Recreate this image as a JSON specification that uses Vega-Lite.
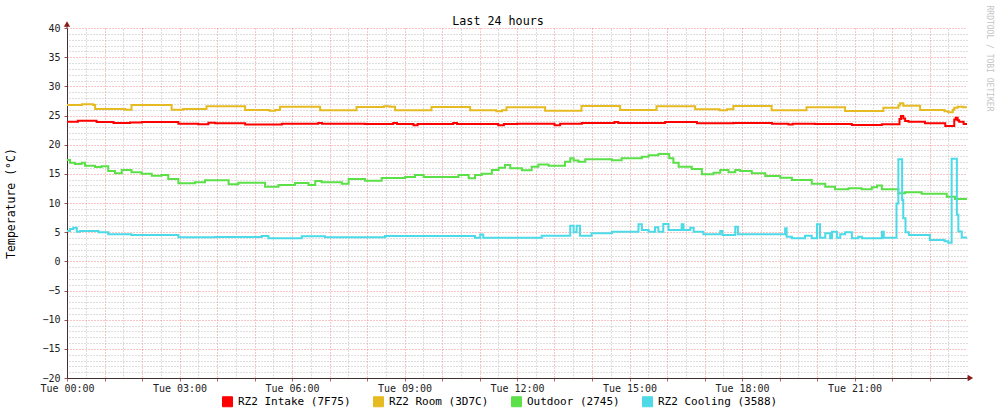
{
 "$schema": "https://vega.github.io/schema/vega-lite/v6.json",
 "width": 900, "height": 350,
 "autosize": {"type": "none"},
 "padding": {"left": 67, "top": 28, "right": 30, "bottom": 40},
 "background": "#ffffff",
 "title": {"text": "Last 24 hours", "font": "DejaVu Sans Mono", "fontSize": 11.7, "fontWeight": "normal", "color": "#000000", "anchor": "middle", "frame": "group", "offset": -23, "dx": -19},
 "config": {"view": {"stroke": null}, "axis": {"labelFont": "DejaVu Sans Mono", "titleFont": "DejaVu Sans Mono"}},
 "data": {"values": [
  {"s":"RZ2 Intake (7F75)","h":0,"v":23.94},{"s":"RZ2 Intake (7F75)","h":0.29,"v":24.1},{"s":"RZ2 Intake (7F75)","h":0.79,"v":23.9},{"s":"RZ2 Intake (7F75)","h":1.24,"v":23.7},{"s":"RZ2 Intake (7F75)","h":1.68,"v":23.8},{"s":"RZ2 Intake (7F75)","h":2.0,"v":23.9},{"s":"RZ2 Intake (7F75)","h":2.97,"v":23.6},{"s":"RZ2 Intake (7F75)","h":3.5,"v":23.5},{"s":"RZ2 Intake (7F75)","h":3.77,"v":23.75},{"s":"RZ2 Intake (7F75)","h":3.95,"v":23.66},{"s":"RZ2 Intake (7F75)","h":4.75,"v":23.45},{"s":"RZ2 Intake (7F75)","h":5.73,"v":23.6},{"s":"RZ2 Intake (7F75)","h":6.7,"v":23.72},{"s":"RZ2 Intake (7F75)","h":6.8,"v":23.6},{"s":"RZ2 Intake (7F75)","h":7.95,"v":23.54},{"s":"RZ2 Intake (7F75)","h":8.7,"v":23.72},{"s":"RZ2 Intake (7F75)","h":8.8,"v":23.54},{"s":"RZ2 Intake (7F75)","h":9.24,"v":23.35},{"s":"RZ2 Intake (7F75)","h":9.35,"v":23.54},{"s":"RZ2 Intake (7F75)","h":10.3,"v":23.72},{"s":"RZ2 Intake (7F75)","h":10.4,"v":23.54},{"s":"RZ2 Intake (7F75)","h":11.5,"v":23.35},{"s":"RZ2 Intake (7F75)","h":11.65,"v":23.54},{"s":"RZ2 Intake (7F75)","h":12.0,"v":23.6},{"s":"RZ2 Intake (7F75)","h":13.0,"v":23.35},{"s":"RZ2 Intake (7F75)","h":13.15,"v":23.6},{"s":"RZ2 Intake (7F75)","h":13.73,"v":23.7},{"s":"RZ2 Intake (7F75)","h":14.6,"v":23.9},{"s":"RZ2 Intake (7F75)","h":14.7,"v":23.7},{"s":"RZ2 Intake (7F75)","h":15.95,"v":23.88},{"s":"RZ2 Intake (7F75)","h":16.8,"v":23.66},{"s":"RZ2 Intake (7F75)","h":17.77,"v":23.72},{"s":"RZ2 Intake (7F75)","h":18.8,"v":23.6},{"s":"RZ2 Intake (7F75)","h":19.24,"v":23.45},{"s":"RZ2 Intake (7F75)","h":19.35,"v":23.6},{"s":"RZ2 Intake (7F75)","h":19.95,"v":23.54},{"s":"RZ2 Intake (7F75)","h":20.93,"v":23.37},{"s":"RZ2 Intake (7F75)","h":21.73,"v":23.48},{"s":"RZ2 Intake (7F75)","h":22.2,"v":24.4},{"s":"RZ2 Intake (7F75)","h":22.24,"v":24.9},{"s":"RZ2 Intake (7F75)","h":22.3,"v":24.5},{"s":"RZ2 Intake (7F75)","h":22.35,"v":24.06},{"s":"RZ2 Intake (7F75)","h":22.44,"v":23.94},{"s":"RZ2 Intake (7F75)","h":22.88,"v":23.66},{"s":"RZ2 Intake (7F75)","h":23.42,"v":23.2},{"s":"RZ2 Intake (7F75)","h":23.66,"v":24.3},{"s":"RZ2 Intake (7F75)","h":23.7,"v":24.63},{"s":"RZ2 Intake (7F75)","h":23.75,"v":24.2},{"s":"RZ2 Intake (7F75)","h":23.79,"v":23.94},{"s":"RZ2 Intake (7F75)","h":23.91,"v":23.54},{"s":"RZ2 Intake (7F75)","h":24,"v":23.54},
  {"s":"RZ2 Room (3D7C)","h":0,"v":26.8},{"s":"RZ2 Room (3D7C)","h":0.4,"v":26.95},{"s":"RZ2 Room (3D7C)","h":0.7,"v":26.8},{"s":"RZ2 Room (3D7C)","h":0.75,"v":26.1},{"s":"RZ2 Room (3D7C)","h":1.55,"v":26.0},{"s":"RZ2 Room (3D7C)","h":1.72,"v":26.8},{"s":"RZ2 Room (3D7C)","h":2.79,"v":26.0},{"s":"RZ2 Room (3D7C)","h":3.1,"v":26.1},{"s":"RZ2 Room (3D7C)","h":3.72,"v":26.6},{"s":"RZ2 Room (3D7C)","h":4.75,"v":25.94},{"s":"RZ2 Room (3D7C)","h":5.4,"v":25.83},{"s":"RZ2 Room (3D7C)","h":5.55,"v":25.94},{"s":"RZ2 Room (3D7C)","h":5.68,"v":26.51},{"s":"RZ2 Room (3D7C)","h":6.75,"v":25.88},{"s":"RZ2 Room (3D7C)","h":7.72,"v":26.46},{"s":"RZ2 Room (3D7C)","h":8.45,"v":26.6},{"s":"RZ2 Room (3D7C)","h":8.6,"v":26.5},{"s":"RZ2 Room (3D7C)","h":8.75,"v":25.88},{"s":"RZ2 Room (3D7C)","h":9.72,"v":26.46},{"s":"RZ2 Room (3D7C)","h":10.75,"v":25.88},{"s":"RZ2 Room (3D7C)","h":11.45,"v":25.75},{"s":"RZ2 Room (3D7C)","h":11.6,"v":25.88},{"s":"RZ2 Room (3D7C)","h":11.72,"v":26.4},{"s":"RZ2 Room (3D7C)","h":12.75,"v":25.83},{"s":"RZ2 Room (3D7C)","h":13.72,"v":26.63},{"s":"RZ2 Room (3D7C)","h":14.75,"v":25.94},{"s":"RZ2 Room (3D7C)","h":15.72,"v":26.6},{"s":"RZ2 Room (3D7C)","h":16.75,"v":26.06},{"s":"RZ2 Room (3D7C)","h":17.4,"v":25.9},{"s":"RZ2 Room (3D7C)","h":17.6,"v":26.06},{"s":"RZ2 Room (3D7C)","h":17.77,"v":26.63},{"s":"RZ2 Room (3D7C)","h":18.79,"v":25.88},{"s":"RZ2 Room (3D7C)","h":19.72,"v":26.4},{"s":"RZ2 Room (3D7C)","h":20.75,"v":25.77},{"s":"RZ2 Room (3D7C)","h":21.77,"v":26.34},{"s":"RZ2 Room (3D7C)","h":22.17,"v":26.7},{"s":"RZ2 Room (3D7C)","h":22.21,"v":27.08},{"s":"RZ2 Room (3D7C)","h":22.3,"v":26.69},{"s":"RZ2 Room (3D7C)","h":22.75,"v":25.94},{"s":"RZ2 Room (3D7C)","h":23.4,"v":25.75},{"s":"RZ2 Room (3D7C)","h":23.5,"v":25.54},{"s":"RZ2 Room (3D7C)","h":23.62,"v":26.0},{"s":"RZ2 Room (3D7C)","h":23.66,"v":26.34},{"s":"RZ2 Room (3D7C)","h":23.75,"v":26.5},{"s":"RZ2 Room (3D7C)","h":23.9,"v":26.4},{"s":"RZ2 Room (3D7C)","h":24,"v":26.4},
  {"s":"Outdoor (2745)","h":0,"v":17.37},{"s":"Outdoor (2745)","h":0.08,"v":16.91},{"s":"Outdoor (2745)","h":0.21,"v":16.69},{"s":"Outdoor (2745)","h":0.39,"v":16.91},{"s":"Outdoor (2745)","h":0.48,"v":16.4},{"s":"Outdoor (2745)","h":0.75,"v":16.17},{"s":"Outdoor (2745)","h":0.92,"v":16.3},{"s":"Outdoor (2745)","h":1.1,"v":15.49},{"s":"Outdoor (2745)","h":1.28,"v":15.09},{"s":"Outdoor (2745)","h":1.46,"v":15.66},{"s":"Outdoor (2745)","h":1.72,"v":15.26},{"s":"Outdoor (2745)","h":1.99,"v":15.03},{"s":"Outdoor (2745)","h":2.26,"v":14.68},{"s":"Outdoor (2745)","h":2.52,"v":14.8},{"s":"Outdoor (2745)","h":2.7,"v":14.11},{"s":"Outdoor (2745)","h":2.97,"v":13.37},{"s":"Outdoor (2745)","h":3.41,"v":13.54},{"s":"Outdoor (2745)","h":3.68,"v":13.88},{"s":"Outdoor (2745)","h":4.31,"v":13.2},{"s":"Outdoor (2745)","h":4.57,"v":13.48},{"s":"Outdoor (2745)","h":5.28,"v":12.8},{"s":"Outdoor (2745)","h":5.64,"v":13.09},{"s":"Outdoor (2745)","h":6.08,"v":13.43},{"s":"Outdoor (2745)","h":6.44,"v":13.09},{"s":"Outdoor (2745)","h":6.62,"v":13.77},{"s":"Outdoor (2745)","h":6.79,"v":13.54},{"s":"Outdoor (2745)","h":7.33,"v":13.3},{"s":"Outdoor (2745)","h":7.51,"v":14.11},{"s":"Outdoor (2745)","h":7.95,"v":13.83},{"s":"Outdoor (2745)","h":8.39,"v":14.29},{"s":"Outdoor (2745)","h":9.02,"v":14.46},{"s":"Outdoor (2745)","h":9.28,"v":14.8},{"s":"Outdoor (2745)","h":9.51,"v":14.46},{"s":"Outdoor (2745)","h":10.44,"v":14.8},{"s":"Outdoor (2745)","h":10.71,"v":14.23},{"s":"Outdoor (2745)","h":10.88,"v":14.8},{"s":"Outdoor (2745)","h":11.06,"v":15.03},{"s":"Outdoor (2745)","h":11.33,"v":15.66},{"s":"Outdoor (2745)","h":11.51,"v":16.06},{"s":"Outdoor (2745)","h":11.68,"v":16.51},{"s":"Outdoor (2745)","h":11.82,"v":15.94},{"s":"Outdoor (2745)","h":12.13,"v":15.6},{"s":"Outdoor (2745)","h":12.39,"v":16.2},{"s":"Outdoor (2745)","h":12.57,"v":16.6},{"s":"Outdoor (2745)","h":12.84,"v":16.4},{"s":"Outdoor (2745)","h":13.28,"v":17.09},{"s":"Outdoor (2745)","h":13.42,"v":17.66},{"s":"Outdoor (2745)","h":13.51,"v":17.3},{"s":"Outdoor (2745)","h":13.64,"v":17.09},{"s":"Outdoor (2745)","h":13.82,"v":17.49},{"s":"Outdoor (2745)","h":14.53,"v":17.31},{"s":"Outdoor (2745)","h":14.79,"v":17.66},{"s":"Outdoor (2745)","h":15.33,"v":17.94},{"s":"Outdoor (2745)","h":15.51,"v":18.2},{"s":"Outdoor (2745)","h":15.77,"v":18.4},{"s":"Outdoor (2745)","h":16.06,"v":17.66},{"s":"Outdoor (2745)","h":16.17,"v":16.9},{"s":"Outdoor (2745)","h":16.31,"v":16.2},{"s":"Outdoor (2745)","h":16.66,"v":15.83},{"s":"Outdoor (2745)","h":16.93,"v":14.91},{"s":"Outdoor (2745)","h":17.24,"v":15.2},{"s":"Outdoor (2745)","h":17.42,"v":15.66},{"s":"Outdoor (2745)","h":17.64,"v":15.26},{"s":"Outdoor (2745)","h":17.82,"v":15.66},{"s":"Outdoor (2745)","h":17.95,"v":15.49},{"s":"Outdoor (2745)","h":18.26,"v":15.09},{"s":"Outdoor (2745)","h":18.62,"v":14.63},{"s":"Outdoor (2745)","h":19.02,"v":14.34},{"s":"Outdoor (2745)","h":19.33,"v":13.94},{"s":"Outdoor (2745)","h":19.86,"v":13.31},{"s":"Outdoor (2745)","h":20.22,"v":12.8},{"s":"Outdoor (2745)","h":20.48,"v":12.34},{"s":"Outdoor (2745)","h":20.84,"v":12.51},{"s":"Outdoor (2745)","h":21.19,"v":12.34},{"s":"Outdoor (2745)","h":21.46,"v":12.68},{"s":"Outdoor (2745)","h":21.6,"v":13.0},{"s":"Outdoor (2745)","h":21.73,"v":12.34},{"s":"Outdoor (2745)","h":22.17,"v":11.66},{"s":"Outdoor (2745)","h":22.35,"v":11.83},{"s":"Outdoor (2745)","h":22.79,"v":11.6},{"s":"Outdoor (2745)","h":23.46,"v":11.08},{"s":"Outdoor (2745)","h":23.68,"v":10.68},{"s":"Outdoor (2745)","h":24,"v":10.68},
  {"s":"RZ2 Cooling (3588)","h":0,"v":5.2},{"s":"RZ2 Cooling (3588)","h":0.08,"v":5.54},{"s":"RZ2 Cooling (3588)","h":0.17,"v":5.77},{"s":"RZ2 Cooling (3588)","h":0.26,"v":5.09},{"s":"RZ2 Cooling (3588)","h":0.35,"v":5.2},{"s":"RZ2 Cooling (3588)","h":0.84,"v":4.97},{"s":"RZ2 Cooling (3588)","h":1.1,"v":4.63},{"s":"RZ2 Cooling (3588)","h":1.72,"v":4.51},{"s":"RZ2 Cooling (3588)","h":2.97,"v":4.11},{"s":"RZ2 Cooling (3588)","h":3.95,"v":4.17},{"s":"RZ2 Cooling (3588)","h":5.19,"v":4.34},{"s":"RZ2 Cooling (3588)","h":5.37,"v":3.95},{"s":"RZ2 Cooling (3588)","h":6.26,"v":4.28},{"s":"RZ2 Cooling (3588)","h":6.88,"v":4.11},{"s":"RZ2 Cooling (3588)","h":8.48,"v":4.34},{"s":"RZ2 Cooling (3588)","h":10.88,"v":4.06},{"s":"RZ2 Cooling (3588)","h":11.02,"v":4.6},{"s":"RZ2 Cooling (3588)","h":11.1,"v":4.06},{"s":"RZ2 Cooling (3588)","h":12.66,"v":4.4},{"s":"RZ2 Cooling (3588)","h":13.42,"v":6.11},{"s":"RZ2 Cooling (3588)","h":13.51,"v":4.97},{"s":"RZ2 Cooling (3588)","h":13.59,"v":6.11},{"s":"RZ2 Cooling (3588)","h":13.68,"v":4.4},{"s":"RZ2 Cooling (3588)","h":13.99,"v":4.8},{"s":"RZ2 Cooling (3588)","h":14.53,"v":5.09},{"s":"RZ2 Cooling (3588)","h":15.24,"v":6.34},{"s":"RZ2 Cooling (3588)","h":15.33,"v":5.37},{"s":"RZ2 Cooling (3588)","h":15.51,"v":5.09},{"s":"RZ2 Cooling (3588)","h":15.68,"v":5.83},{"s":"RZ2 Cooling (3588)","h":15.77,"v":5.09},{"s":"RZ2 Cooling (3588)","h":15.9,"v":6.4},{"s":"RZ2 Cooling (3588)","h":16.04,"v":5.37},{"s":"RZ2 Cooling (3588)","h":16.39,"v":6.34},{"s":"RZ2 Cooling (3588)","h":16.44,"v":5.37},{"s":"RZ2 Cooling (3588)","h":16.62,"v":5.77},{"s":"RZ2 Cooling (3588)","h":16.71,"v":5.09},{"s":"RZ2 Cooling (3588)","h":16.97,"v":4.63},{"s":"RZ2 Cooling (3588)","h":17.42,"v":5.2},{"s":"RZ2 Cooling (3588)","h":17.48,"v":4.51},{"s":"RZ2 Cooling (3588)","h":17.82,"v":5.94},{"s":"RZ2 Cooling (3588)","h":17.89,"v":4.63},{"s":"RZ2 Cooling (3588)","h":19.15,"v":5.66},{"s":"RZ2 Cooling (3588)","h":19.19,"v":4.23},{"s":"RZ2 Cooling (3588)","h":19.33,"v":3.94},{"s":"RZ2 Cooling (3588)","h":19.68,"v":4.4},{"s":"RZ2 Cooling (3588)","h":19.86,"v":3.94},{"s":"RZ2 Cooling (3588)","h":20.0,"v":6.34},{"s":"RZ2 Cooling (3588)","h":20.08,"v":4.06},{"s":"RZ2 Cooling (3588)","h":20.22,"v":4.8},{"s":"RZ2 Cooling (3588)","h":20.35,"v":3.94},{"s":"RZ2 Cooling (3588)","h":20.4,"v":5.09},{"s":"RZ2 Cooling (3588)","h":20.53,"v":4.06},{"s":"RZ2 Cooling (3588)","h":20.62,"v":4.63},{"s":"RZ2 Cooling (3588)","h":20.75,"v":4.97},{"s":"RZ2 Cooling (3588)","h":20.93,"v":3.94},{"s":"RZ2 Cooling (3588)","h":21.1,"v":4.2},{"s":"RZ2 Cooling (3588)","h":21.2,"v":3.94},{"s":"RZ2 Cooling (3588)","h":21.73,"v":5.09},{"s":"RZ2 Cooling (3588)","h":21.78,"v":4.06},{"s":"RZ2 Cooling (3588)","h":22.12,"v":9.9},{"s":"RZ2 Cooling (3588)","h":22.17,"v":17.5},{"s":"RZ2 Cooling (3588)","h":22.27,"v":10.5},{"s":"RZ2 Cooling (3588)","h":22.3,"v":7.4},{"s":"RZ2 Cooling (3588)","h":22.36,"v":5.0},{"s":"RZ2 Cooling (3588)","h":22.45,"v":4.5},{"s":"RZ2 Cooling (3588)","h":23.01,"v":3.65},{"s":"RZ2 Cooling (3588)","h":23.4,"v":3.45},{"s":"RZ2 Cooling (3588)","h":23.5,"v":3.2},{"s":"RZ2 Cooling (3588)","h":23.59,"v":17.6},{"s":"RZ2 Cooling (3588)","h":23.73,"v":8.0},{"s":"RZ2 Cooling (3588)","h":23.77,"v":5.1},{"s":"RZ2 Cooling (3588)","h":23.86,"v":4.1},{"s":"RZ2 Cooling (3588)","h":24,"v":4.1}
 ]},
 "resolve": {"axis": {"x": "independent", "y": "independent"}},
 "layer": [
  {"mark": {"type": "point", "opacity": 0},
   "encoding": {
    "x": {"field": "h", "type": "quantitative", "scale": {"domain": [0, 24], "nice": false, "zero": false},
     "axis": {"orient": "top", "values": [0.5,1.5,2.5,3.5,4.5,5.5,6.5,7.5,8.5,9.5,10.5,11.5,12.5,13.5,14.5,15.5,16.5,17.5,18.5,19.5,20.5,21.5,22.5,23.5], "grid": true, "gridColor": "#b0b0b0", "gridDash": [1, 2], "gridOpacity": 0.85, "labels": false, "ticks": false, "domain": false, "title": null}},
    "y": {"field": "v", "type": "quantitative", "scale": {"domain": [-20, 40], "nice": false, "zero": false},
     "axis": {"orient": "right", "values": [-19,-18,-17,-16,-14,-13,-12,-11,-9,-8,-7,-6,-4,-3,-2,-1,1,2,3,4,6,7,8,9,11,12,13,14,16,17,18,19,21,22,23,24,26,27,28,29,31,32,33,34,36,37,38,39], "grid": true, "gridColor": "#b0b0b0", "gridDash": [1, 2], "gridOpacity": 0.85, "labels": false, "ticks": false, "domain": false,
      "title": "RRDTOOL / TOBI OETIKER", "titleAngle": 90, "titleFontSize": 8, "titleFontWeight": "normal", "titleColor": "#c4c4c4", "titleX": 21, "titleY": -23, "titleAlign": "left", "titleBaseline": "middle"}}
   }},
  {"mark": {"type": "line", "interpolate": "step-after", "strokeWidth": 2},
   "encoding": {
    "x": {"field": "h", "type": "quantitative", "scale": {"domain": [0, 24], "nice": false, "zero": false},
     "axis": {"orient": "bottom", "values": [0,1,2,3,4,5,6,7,8,9,10,11,12,13,14,15,16,17,18,19,20,21,22,23], "grid": true, "gridColor": "#f07070", "gridDash": [1, 2], "gridOpacity": 0.8, "labelExpr": "datum.value % 3 == 0 ? 'Tue ' + (datum.value < 10 ? '0' : '') + datum.value + ':00' : ''", "labelOverlap": false, "labelFlush": false, "labelFontSize": 10, "labelColor": "#222222", "labelPadding": 2, "tickSize": 3, "tickColor": "#c06060", "domainColor": "#403030", "title": null}},
    "y": {"field": "v", "type": "quantitative", "scale": {"domain": [-20, 40], "nice": false, "zero": false},
     "axis": {"orient": "left", "values": [-20,-15,-10,-5,0,5,10,15,20,25,30,35,40], "grid": true, "gridColor": "#f07070", "gridDash": [1, 2], "gridOpacity": 0.8, "labelFontSize": 10, "labelColor": "#222222", "labelPadding": 4, "labelFlush": false, "tickSize": 3, "tickColor": "#a05050", "domainColor": "#403030",
      "title": "Temperature (°C)", "titleFontSize": 11.5, "titleFontWeight": "normal", "titleColor": "#000000", "titleAngle": -90, "titleX": -56, "titleBaseline": "middle", "titleAlign": "center"}},
    "color": {"field": "s", "type": "nominal",
     "scale": {"domain": ["RZ2 Intake (7F75)", "RZ2 Room (3D7C)", "Outdoor (2745)", "RZ2 Cooling (3588)"], "range": ["#ff0000", "#e6bb22", "#5be048", "#4ddae8"]},
     "legend": {"orient": "none", "legendX": 155, "legendY": 368, "direction": "horizontal", "title": null, "padding": 0, "symbolType": "square", "symbolSize": 100, "symbolStrokeWidth": 1, "labelFont": "DejaVu Sans Mono", "labelFontSize": 11, "labelColor": "#000000", "labelOffset": 5, "columnPadding": 20,
      "encode": {"symbols": {"update": {"fill": {"scale": "color", "field": "value"}, "stroke": {"value": "#000000"}, "strokeWidth": {"value": 1}, "opacity": {"value": 1}}}}}}
   }},
  {"data": {"values": [{}]}, "mark": {"type": "rule", "color": "#403030"},
   "encoding": {"x": {"datum": 0, "type": "quantitative", "axis": null, "scale": {"domain": [0, 24], "nice": false, "zero": false}}, "y": {"datum": 40, "type": "quantitative", "axis": null, "scale": {"domain": [-20, 40], "nice": false, "zero": false}}, "y2": {"datum": 40.5}}},
  {"data": {"values": [{}]}, "mark": {"type": "rule", "color": "#403030"},
   "encoding": {"x": {"datum": 24, "type": "quantitative", "axis": null, "scale": {"domain": [0, 24], "nice": false, "zero": false}}, "x2": {"datum": 24.06}, "y": {"datum": -20, "type": "quantitative", "axis": null, "scale": {"domain": [-20, 40], "nice": false, "zero": false}}}},
  {"data": {"values": [{}]}, "mark": {"type": "point", "shape": "triangle-up", "filled": true, "size": 40, "color": "#8b1a1a", "opacity": 1},
   "encoding": {"x": {"datum": 0, "type": "quantitative", "axis": null, "scale": {"domain": [0, 24], "nice": false, "zero": false}}, "y": {"datum": 40.7, "type": "quantitative", "axis": null, "scale": {"domain": [-20, 40], "nice": false, "zero": false}}}},
  {"data": {"values": [{}]}, "mark": {"type": "point", "shape": "triangle-right", "filled": true, "size": 40, "color": "#8b1a1a", "opacity": 1},
   "encoding": {"x": {"datum": 24.09, "type": "quantitative", "axis": null, "scale": {"domain": [0, 24], "nice": false, "zero": false}}, "y": {"datum": -20, "type": "quantitative", "axis": null, "scale": {"domain": [-20, 40], "nice": false, "zero": false}}}}
 ]
}
